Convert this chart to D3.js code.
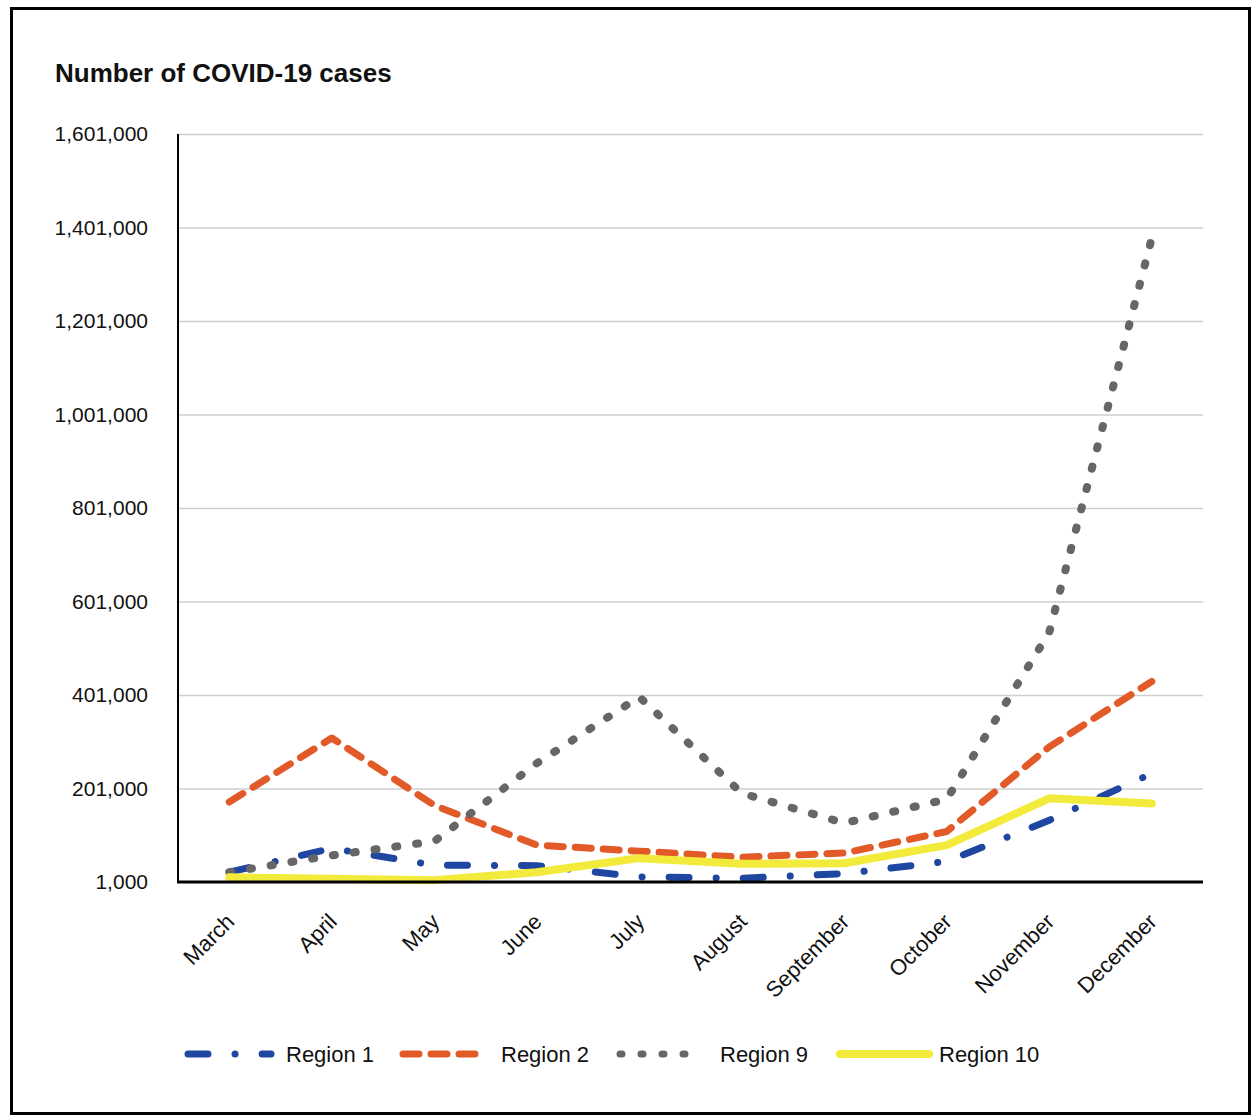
<!DOCTYPE html>
<html>
<head>
<meta charset="utf-8">
<script src="https://cdn.jsdelivr.net/npm/d3@7"></script>
<style>
  body { margin: 0; background: white; }
  text { font-family: "Liberation Sans", Arial, sans-serif; }
</style>
</head>
<body>
<div id="container"></div>
<script>
// monthly case counts
let months = ["March", "April", "May", "June", "July", "August", "September", "October", "November", "December"];
let region1 = [22000, 73000, 37000, 36000, 12000, 9000, 19000, 45000, 133000, 233000];
let region2 = [172000, 309000, 165000, 80000, 67000, 54000, 63000, 109000, 290000, 430000];
let region9 = [22000, 58000, 88000, 255000, 397000, 191000, 127000, 178000, 535000, 1378000];
let region10 = [11000, 8000, 5000, 22000, 52000, 40000, 41000, 80000, 180000, 169000];
let yTicks = [1000, 201000, 401000, 601000, 801000, 1001000, 1201000, 1401000, 1601000];
let seriesNames = ["Region 1", "Region 2", "Region 9", "Region 10"];

let w = 1252;
let h = 1117;
let plotLeft = 178, plotRight = 1203, plotTop = 134, plotBottom = 882;

let viz = d3.select("#container")
  .append("svg")
  .attr("width", w)
  .attr("height", h)
  .style("background-color", "white");

// outer frame
viz.append("rect")
  .attr("x", 11.5).attr("y", 8.5)
  .attr("width", 1238).attr("height", 1105)
  .attr("fill", "none")
  .attr("stroke", "black")
  .attr("stroke-width", 3);

viz.append("text")
  .attr("x", 55).attr("y", 82)
  .attr("font-size", "26px")
  .attr("font-weight", "bold")
  .attr("fill", "#111")
  .text("Number of COVID-19 cases");

let xScale = d3.scalePoint().domain(months).range([plotLeft, plotRight]).padding(0.5);
let yScale = d3.scaleLinear().domain([1000, 1601000]).range([plotBottom, plotTop]);

// gridlines
let grid = viz.append("g").attr("class", "grid")
  .attr("transform", "translate(" + plotLeft + ",0)")
  .call(d3.axisLeft(yScale).tickValues(yTicks.slice(1)).tickSize(-(plotRight - plotLeft)).tickFormat(""));
grid.select(".domain").remove();
grid.selectAll("line").attr("stroke", "#cfcfcf").attr("stroke-width", 1.3);

// y axis labels
let yAxisGroup = viz.append("g")
  .attr("transform", "translate(" + plotLeft + ",0)")
  .call(d3.axisLeft(yScale).tickValues(yTicks).tickSize(0).tickPadding(30).tickFormat(d3.format(",")));
yAxisGroup.select(".domain").remove();
yAxisGroup.selectAll("text")
  .attr("font-size", "21px")
  .attr("font-family", "Liberation Sans, Arial, sans-serif")
  .attr("fill", "#111");

// y axis line
viz.append("line")
  .attr("x1", plotLeft).attr("x2", plotLeft)
  .attr("y1", plotTop).attr("y2", plotBottom)
  .attr("stroke", "black").attr("stroke-width", 2);

// series
let series = [
  { name: seriesNames[0], values: region1, color: "#1f46a0", width: 7, dash: "20 27 0.1 27" },
  { name: seriesNames[1], values: region2, color: "#e25a27", width: 7, dash: "16 12" },
  { name: seriesNames[2], values: region9, color: "#666666", width: 8, dash: "2 19" },
  { name: seriesNames[3], values: region10, color: "#f3eb3b", width: 8, dash: null }
];

let line = d3.line()
  .x(function (d, i) { return xScale(months[i]); })
  .y(function (d) { return yScale(d); });

viz.selectAll(".series")
  .data(series)
  .enter()
  .append("path")
  .attr("class", "series")
  .attr("d", function (d) { return line(d.values); })
  .attr("fill", "none")
  .attr("stroke", function (d) { return d.color; })
  .attr("stroke-width", function (d) { return d.width; })
  .attr("stroke-dasharray", function (d) { return d.dash; })
  .attr("stroke-linecap", "round")
  .attr("stroke-linejoin", "round");

// x axis
let xAxisGroup = viz.append("g")
  .attr("transform", "translate(0," + plotBottom + ")")
  .call(d3.axisBottom(xScale).tickSize(0).tickPadding(0));
xAxisGroup.select(".domain").remove();
xAxisGroup.selectAll("text")
  .attr("font-size", "22px")
  .attr("font-family", "Liberation Sans, Arial, sans-serif")
  .attr("fill", "#111")
  .attr("text-anchor", "end")
  .attr("transform", "translate(6,41) rotate(-45)")
  .attr("dy", 0)
  .attr("y", 0);

viz.append("line")
  .attr("x1", plotLeft - 1).attr("x2", plotRight)
  .attr("y1", plotBottom).attr("y2", plotBottom)
  .attr("stroke", "black").attr("stroke-width", 3);

// legend
let legendX = [185, 400, 617, 837];
let legend = viz.selectAll(".legend")
  .data(series)
  .enter()
  .append("g")
  .attr("class", "legend")
  .attr("transform", function (d, i) { return "translate(" + legendX[i] + ",1054)"; });

legend.append("line")
  .attr("x1", 3).attr("x2", function (d, i) { return i == 3 ? 92 : 86; })
  .attr("y1", 0).attr("y2", 0)
  .attr("stroke", function (d) { return d.color; })
  .attr("stroke-width", function (d, i) { return i == 3 ? 8 : 7; })
  .attr("stroke-linecap", "round")
  .attr("stroke-dasharray", function (d) { return d.dash; });

legend.append("text")
  .attr("x", function (d, i) { return i == 3 ? 102 : (i == 2 ? 103 : 101); })
  .attr("y", 0)
  .attr("dy", "0.35em")
  .attr("font-size", "22px")
  .attr("fill", "#111")
  .text(function (d) { return d.name; });
</script>
</body>
</html>
